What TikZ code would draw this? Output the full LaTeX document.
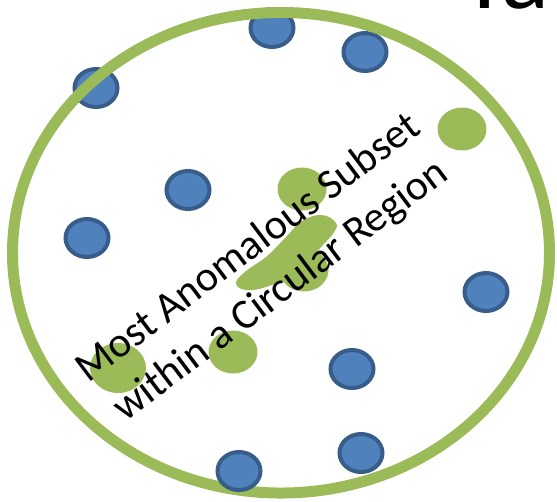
\documentclass[tikz,border=0pt]{standalone}
\usepackage{fontspec}
\setmainfont{Carlito}
\usetikzlibrary{shapes.geometric}
\definecolor{dotblue}{HTML}{4F81BD}
\definecolor{dotedge}{HTML}{385D8A}
\definecolor{leafgreen}{HTML}{9BBB59}
\begin{document}
\begin{tikzpicture}[x=0.75pt,y=-0.75pt,
  bluedot/.style={ellipse, draw=dotedge, fill=dotblue, line width=3pt,
    inner sep=0pt, minimum width=32.25pt, minimum height=28.5pt},
  greendot/.style={ellipse, fill=leafgreen, inner sep=0pt,
    minimum width=36.75pt, minimum height=32.25pt},
  bigdot/.style={greendot, minimum width=42pt, minimum height=37.5pt},
  region/.style={ellipse, draw=leafgreen, line width=8.25pt, inner sep=0pt,
    minimum width=402.75pt, minimum height=360.4pt},
  caption/.style={rotate=37, align=center, inner sep=0pt,
    font=\fontsize{31.8}{40}\selectfont}]
\useasboundingbox (0,0) rectangle (557,501);
\clip (0,0) rectangle (557,501);

% ordinary points
\node[bluedot] (b1) at (272,28) {};
\node[bluedot] (b2) at (365,52) {};
\node[bluedot] (b3) at (96,88) {};
\node[bluedot] (b4) at (188,190) {};
\node[bluedot] (b5) at (87,238) {};
\node[bluedot] (b6) at (486,292) {};
\node[bluedot] (b7) at (352,369) {};
\node[bluedot] (b8) at (361,453) {};

% anomalous points
\node[greendot] (g1) at (462,129) {};
\node[greendot] (g2) at (302,189) {};
\node[greendot] (g3) at (304,270) {};
\node[bigdot]   (g4) at (118,368) {};
\node[greendot] (g5) at (233,352) {};

% elongated anomalous cluster
\fill[leafgreen] plot[smooth cycle, tension=0.7] coordinates {
  (336,223) (322,215) (302,221) (286,237) (266,257) (246,271) (236,283)
  (246,290) (266,287) (287,277) (306,262) (323,245) (334,232)};

% circular region
\node[region] (circ) at (281,252.75) {};

\node[bluedot] (b9) at (239,471) {};

\node[caption] (label) at (265,270) {Most Anomalous Subset\\within a Circular Region};

\node[anchor=base west, inner sep=0pt, font=\fontsize{75}{90}\selectfont] (title) at (460,8) {Ta};
\end{tikzpicture}
\end{document}
